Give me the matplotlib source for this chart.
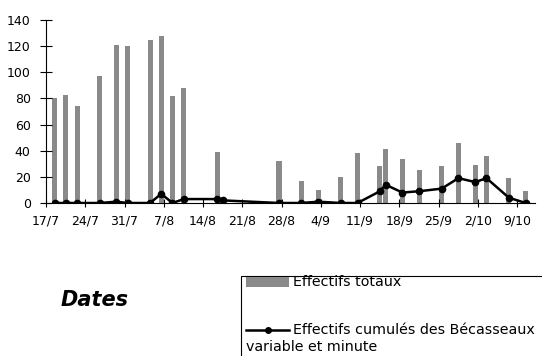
import datetime as dt
import matplotlib
matplotlib.use("Agg")
import matplotlib.pyplot as plt
from matplotlib.patches import Rectangle
from matplotlib.lines import Line2D

plt.rcParams['font.family'] = ['DejaVu Sans']

# comptages (jour/mois)
bar_dates = ["18/7", "20/7", "22/7", "26/7", "29/7", "31/7", "4/8", "6/8", "8/8", "10/8",
             "16/8", "27/8", "31/8", "3/9", "7/9", "10/9", "14/9", "15/9", "18/9", "21/9",
             "25/9", "28/9", "1/10", "3/10", "7/10", "10/10"]
totaux = [80, 83, 74, 97, 121, 120, 125, 128, 82, 88,
          39, 32, 17, 10, 20, 38, 28, 41, 34, 25,
          28, 46, 29, 36, 19, 9]

line_dates = ["18/7", "20/7", "22/7", "26/7", "29/7", "31/7", "4/8", "6/8", "8/8", "10/8",
              "16/8", "17/8", "27/8", "31/8", "3/9", "7/9", "10/9", "14/9", "15/9", "18/9",
              "21/9", "25/9", "28/9", "1/10", "3/10", "7/10", "10/10"]
cumules = [0, 0, 0, 0, 1, 0, 0, 7, 0, 3,
           3, 2, 0, 0, 1, 0, 0, 9, 14, 8,
           9, 11, 19, 16, 19, 4, 0]

tick_labels = ["17/7", "24/7", "31/7", "7/8", "14/8", "21/8", "28/8",
               "4/9", "11/9", "18/9", "25/9", "2/10", "9/10"]

start = dt.date(2001, 7, 17)
W, H = 542, 356


def day(s):
    d, m = s.split("/")
    return (dt.date(2001, int(m), int(d)) - start).days


def fx(px):
    return px / W


def fy(py):
    return 1 - py / H


# valeurs placees au milieu du jour, comme dans un axe de dates Excel
xb = [day(s) + 0.55 for s in bar_dates]
xl = [day(s) + 0.55 for s in line_dates]
xt = [day(s) for s in tick_labels]

fig = plt.figure(figsize=(W / 100, H / 100), dpi=100)
ax = fig.add_axes([fx(46), fy(203), fx(535 - 46), 183 / H])

ax.bar(xb, totaux, width=0.9, color="#8a8a8a", linewidth=0)
ax.plot(xl, cumules, color="black", linewidth=1.8, marker="o", markersize=4.5)

ax.set_xlim(0, 87.2)
ax.set_ylim(0, 140)
ax.set_yticks(range(0, 141, 20))
ax.set_xticks(xt)
ax.set_xticklabels(tick_labels)

for side in ("top", "right"):
    ax.spines[side].set_visible(False)
for side in ("left", "bottom"):
    ax.spines[side].set_linewidth(0.8)

ax.tick_params(axis="y", direction="inout", length=8, width=0.8, pad=7, labelsize=9)
ax.tick_params(axis="x", direction="inout", length=6, width=0.8, pad=5, labelsize=9)

fig.text(fx(61), fy(300), "Dates", fontsize=15, fontweight="bold",
         fontstyle="italic", va="center", ha="left")

# legende facon Excel, coupee par le bord de l'image
fig.add_artist(Rectangle((fx(241), fy(400)), fx(400), 124 / H, transform=fig.transFigure,
                         facecolor="white", edgecolor="black", linewidth=0.8))
fig.add_artist(Rectangle((fx(246), fy(287)), fx(43), 10 / H, transform=fig.transFigure,
                         facecolor="#8a8a8a", edgecolor="none"))
fig.add_artist(Line2D([fx(246), fx(289)], [fy(330), fy(330)], transform=fig.transFigure,
                      color="black", linewidth=1.8))
fig.add_artist(Line2D([fx(267.5)], [fy(330)], transform=fig.transFigure,
                      color="black", marker="o", markersize=4))
fig.text(fx(293), fy(282), "Effectifs totaux", fontsize=10.3, va="center", ha="left")
fig.text(fx(293), fy(330), "Effectifs cumulés des Bécasseaux", fontsize=10.3,
         va="center", ha="left")
fig.text(fx(246), fy(347), "variable et minute", fontsize=10.3, va="center", ha="left")

fig.savefig("out.png", dpi=100)
